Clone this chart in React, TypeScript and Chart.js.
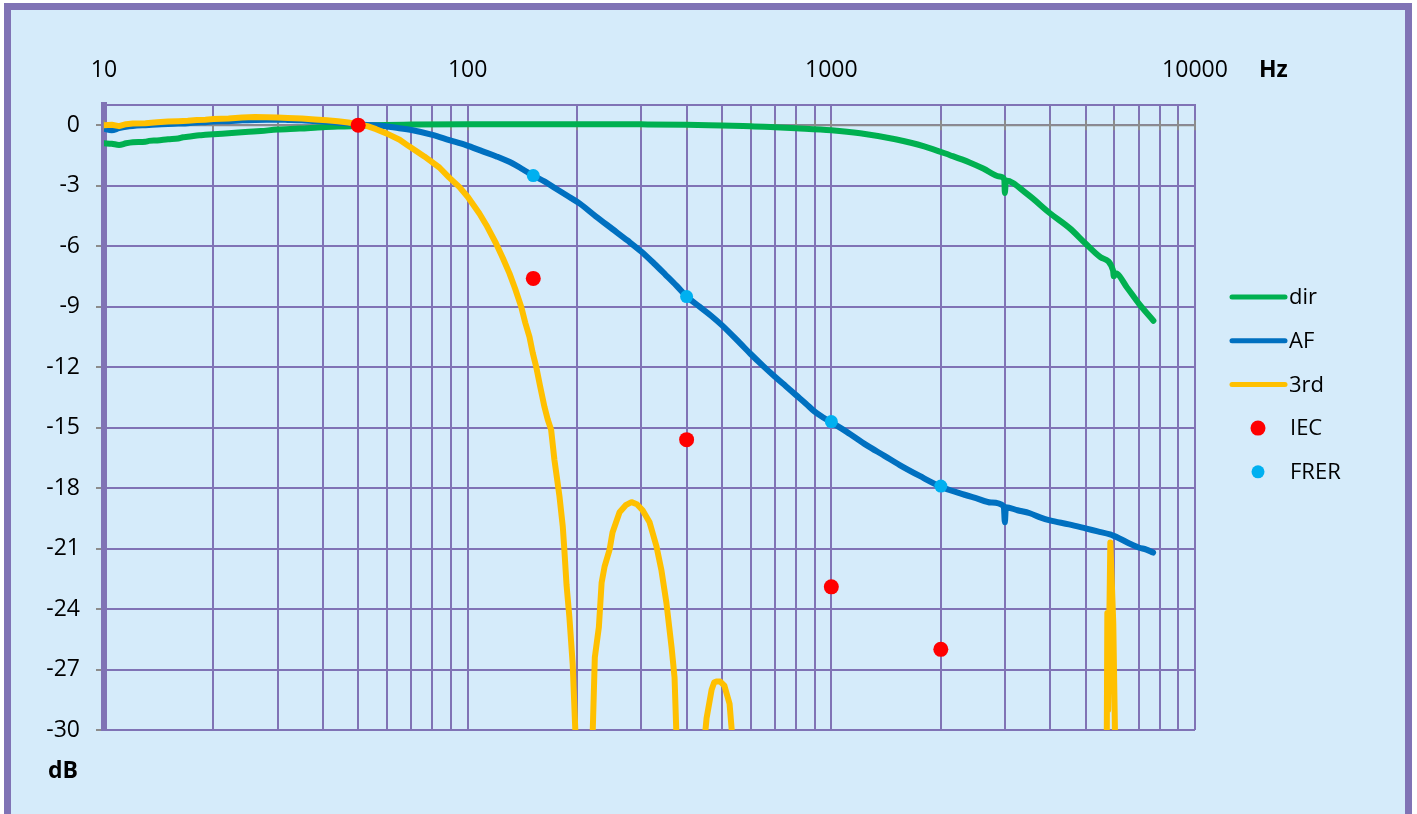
import React, { useEffect, useRef } from "react";
import { Chart, registerables } from "chart.js";

Chart.register(...registerables);

// ---------- data ----------
const seriesLabels = ["dir", "AF", "3rd", "IEC", "FRER"];

const dirFreq = [10, 10.5, 11, 11.5, 12, 13, 13.3, 14, 15, 16, 16.5, 17, 18.3, 19, 20, 22, 25, 27, 30, 34.5, 40, 44, 48, 55, 70, 100, 150, 200, 300, 400, 500, 600, 700, 800, 1000, 1200, 1500, 1800, 2120, 2400, 2616, 2900, 2990, 3000, 3020, 3442, 4000, 4529, 5000, 5500, 5950, 5980, 6050, 6500, 7000, 7685];
const dirDb = [-0.9, -0.92, -0.98, -0.9, -0.85, -0.82, -0.78, -0.76, -0.7, -0.66, -0.6, -0.58, -0.5, -0.48, -0.45, -0.4, -0.33, -0.29, -0.22, -0.17, -0.1, -0.07, -0.05, 0, 0.03, 0.05, 0.05, 0.05, 0.04, 0.02, -0.02, -0.05, -0.1, -0.15, -0.25, -0.4, -0.7, -1.05, -1.49, -1.85, -2.15, -2.55, -2.69, -3.36, -2.75, -3.39, -4.38, -5.12, -5.87, -6.55, -7.2, -7.5, -7.35, -8.05, -8.84, -9.7];

const afFreq = [10, 10.5, 11, 11.5, 12, 13, 14, 15, 16, 17, 18, 19, 20, 22, 24, 26, 28, 30, 32, 35, 38, 41, 44, 47, 50, 57, 63, 70.6, 80, 89, 98.9, 110, 120, 133, 142, 151.5, 163, 175, 188, 203, 225, 250, 275, 300.6, 325, 350, 375, 400, 434, 467, 500, 560, 600, 650, 700, 750, 800, 850, 900, 950, 1000, 1100, 1249, 1400, 1542, 1750, 2000, 2250, 2500, 2750, 2980, 3000, 3020, 3250, 3515, 3750, 3990, 4500, 5000, 5400, 5840, 6200, 6600, 7000, 7350, 7670];
const afDb = [-0.17, -0.25, -0.15, -0.08, -0.04, 0, 0.03, 0.06, 0.08, 0.1, 0.13, 0.15, 0.18, 0.2, 0.24, 0.26, 0.27, 0.27, 0.26, 0.24, 0.2, 0.17, 0.12, 0.08, 0.03, -0.02, -0.12, -0.25, -0.48, -0.74, -0.99, -1.3, -1.55, -1.9, -2.2, -2.5, -2.8, -3.15, -3.5, -3.88, -4.52, -5.15, -5.72, -6.28, -6.85, -7.42, -7.96, -8.5, -9.0, -9.45, -9.92, -10.8, -11.35, -11.95, -12.48, -12.95, -13.39, -13.8, -14.21, -14.5, -14.74, -15.2, -15.87, -16.4, -16.86, -17.4, -17.93, -18.25, -18.5, -18.72, -18.9, -19.7, -18.95, -19.1, -19.25, -19.45, -19.6, -19.8, -20.0, -20.15, -20.3, -20.5, -20.75, -20.95, -21.05, -21.2];

const thirdFreq = [10, 10.5, 11, 11.5, 12, 13, 14, 15, 16, 17, 18, 19, 20, 22, 24, 26, 28, 30, 32, 35, 38, 41, 44, 47, 50, 53, 56, 60, 65, 69, 76, 83.6, 89, 94.8, 100, 107.7, 112.5, 119.7, 125, 130.3, 135, 140.3, 144, 147.9, 151, 154.3, 158, 162.6, 166, 169.6, 173.2, 176, 178.8, 182.6, 184.5, 187, 190.4, 194.4, 198.2, 199,
  220.4, 223.7, 229.5, 233.5, 237.9, 245.5, 250.2, 261.6, 272, 282.2, 292, 302.7, 316.4, 330.6, 341.2, 352, 363.7, 370.6, 375.4, 380,
  448, 454, 468.6, 476, 483, 495, 508, 525, 535, 540,
  5720, 5740, 5770, 5850, 5900, 5960, 6030];
const thirdDb = [0, 0.02, -0.05, 0.05, 0.08, 0.1, 0.14, 0.18, 0.2, 0.22, 0.26, 0.27, 0.3, 0.33, 0.38, 0.4, 0.39, 0.38, 0.36, 0.33, 0.28, 0.24, 0.19, 0.13, 0.04, -0.05, -0.2, -0.42, -0.72, -1.05, -1.55, -2.1, -2.6, -3.06, -3.55, -4.38, -4.95, -5.87, -6.6, -7.35, -8.1, -9.0, -9.8, -10.5, -11.3, -11.98, -12.9, -13.97, -14.6, -15.1, -16.6, -17.5, -18.4, -19.9, -21.1, -22.8, -24.4, -26.7, -30.5, null,
  -30.5, -26.4, -24.9, -22.7, -21.9, -21.07, -20.2, -19.2, -18.85, -18.7, -18.8, -19.1, -19.7, -20.9, -22.1, -23.7, -25.9, -27.4, -30.5, null,
  -30.5, -29.4, -28.0, -27.65, -27.6, -27.6, -27.8, -28.7, -30.5, null,
  -30.5, -24.2, -29, -20.7, -22.5, -24.7, -30.5];

const iecFreq = [50, 151.5, 400, 1000, 2000];
const iecDb = [0, -7.6, -15.6, -22.9, -26.0];

const frerFreq = [151.5, 400, 1000, 2000];
const frerDb = [-2.5, -8.5, -14.7, -17.9];

const xDecades = [10, 100, 1000];
const xSteps = [1, 2, 3, 4, 5, 6, 7, 8, 9];
const xMaxTick = 10000;
const xLabelValues = [10, 100, 1000, 10000];
const yTickValues = [0, -3, -6, -9, -12, -15, -18, -21, -24, -27, -30];
const xUnit = "Hz";
const yUnit = "dB";

// ---------- style ----------
const FONT = "'Open Sans', 'Noto Sans', sans-serif";
const PURPLE = "#8073B5";
const BG = "#D5EBFA";
const GRAY = "#8C8C8C";
const COLORS = ["#00B050", "#0070C0", "#FFC000", "#FF0000", "#00B0F0"];

const toXY = (fs: number[], ds: (number | null)[]) => fs.map((x, i) => ({ x, y: ds[i] }));

const decorPlugin = {
  id: "decor",
  beforeDatasetsDraw(chart: any) {
    const { ctx, chartArea, scales } = chart;
    const y0 = scales.y.getPixelForValue(0);
    ctx.save();
    ctx.strokeStyle = GRAY;
    ctx.lineWidth = 2;
    ctx.beginPath();
    ctx.moveTo(chartArea.left, y0);
    ctx.lineTo(chartArea.right, y0);
    ctx.stroke();
    scales.x.ticks.forEach((t: any) => {
      const px = Math.round(scales.x.getPixelForValue(t.value));
      ctx.beginPath();
      ctx.moveTo(px, y0 - 5);
      ctx.lineTo(px, y0 + 5);
      ctx.stroke();
    });
    ctx.restore();
  },
  afterDraw(chart: any) {
    const { ctx } = chart;
    ctx.save();
    ctx.fillStyle = "#000";
    ctx.textBaseline = "middle";
    ctx.textAlign = "left";
    ctx.font = `bold 23px ${FONT}`;
    ctx.fillText(xUnit, 1259, 70);
    ctx.fillText(yUnit, 48, 771);

    // legend
    ctx.font = `22px ${FONT}`;
    const rowStart = 297;
    const rowStep = 43.7;
    seriesLabels.forEach((label, i) => {
      const y = rowStart + i * rowStep;
      ctx.strokeStyle = COLORS[i];
      ctx.fillStyle = COLORS[i];
      if (i < 3) {
        ctx.lineWidth = 5;
        ctx.lineCap = "round";
        ctx.beginPath();
        ctx.moveTo(1232, y);
        ctx.lineTo(1285, y);
        ctx.stroke();
      } else {
        ctx.beginPath();
        ctx.arc(1258, y, i === 3 ? 7.5 : 6.5, 0, Math.PI * 2);
        ctx.fill();
      }
      ctx.fillStyle = "#000";
      ctx.fillText(label, i < 3 ? 1289 : 1290, y + 1);
    });
    ctx.restore();
  },
};

export default function App() {
  const ref = useRef<HTMLCanvasElement | null>(null);

  useEffect(() => {
    if (!ref.current) return;
    const gridTicks: number[] = [];
    xDecades.forEach((d) => xSteps.forEach((s) => gridTicks.push(d * s)));
    gridTicks.push(xMaxTick);

    const lineDs = (i: number, fs: number[], ds: (number | null)[], smooth: boolean) => ({
      label: seriesLabels[i],
      data: toXY(fs, ds),
      borderColor: COLORS[i],
      backgroundColor: COLORS[i],
      borderWidth: 6,
      pointRadius: 0,
      pointHoverRadius: 0,
      tension: smooth ? 0.4 : 0,
      cubicInterpolationMode: smooth ? "monotone" : "default",
      spanGaps: false,
      borderCapStyle: "round",
      borderJoinStyle: "round",
      order: 5 - i,
    });
    const pointDs = (i: number, fs: number[], ds: number[], r: number) => ({
      label: seriesLabels[i],
      data: toXY(fs, ds),
      showLine: false,
      borderColor: COLORS[i],
      backgroundColor: COLORS[i],
      borderWidth: 0,
      pointRadius: r,
      pointHoverRadius: r,
      order: 5 - i,
    });

    const chart = new Chart(ref.current, {
      type: "line",
      data: {
        datasets: [
          lineDs(0, dirFreq, dirDb, true),
          lineDs(1, afFreq, afDb, true),
          lineDs(2, thirdFreq, thirdDb, false),
          pointDs(3, iecFreq, iecDb, 7.5),
          pointDs(4, frerFreq, frerDb, 6.5),
        ] as any,
      },
      options: {
        animation: false,
        responsive: false,
        devicePixelRatio: 1,
        layout: { padding: { left: 0, top: 0, right: 222, bottom: 84 } },
        plugins: { legend: { display: false }, tooltip: { enabled: false } },
        scales: {
          x: {
            type: "logarithmic",
            position: "top",
            min: 10,
            max: 10000,
            afterBuildTicks: (scale: any) => {
              scale.ticks = gridTicks.map((v) => ({ value: v }));
            },
            afterFit: (scale: any) => {
              scale.height = 105;
            },
            ticks: {
              autoSkip: false,
              maxRotation: 0,
              minRotation: 0,
              padding: 21,
              color: "#000",
              font: { family: FONT, size: 23 },
              callback: (v: any) => (xLabelValues.includes(Number(v)) ? String(v) : ""),
            },
            grid: { color: PURPLE, lineWidth: 2, drawTicks: false },
            border: { display: true, color: PURPLE, width: 2 },
          },
          y: {
            type: "linear",
            min: -30,
            max: 1,
            afterBuildTicks: (scale: any) => {
              scale.ticks = yTickValues.map((v) => ({ value: v }));
            },
            afterFit: (scale: any) => {
              scale.width = 104;
            },
            ticks: {
              padding: 16,
              color: "#000",
              font: { family: FONT, size: 23 },
              callback: (v: any) => String(v),
            },
            grid: { color: PURPLE, lineWidth: 2, drawTicks: true, tickLength: 8, tickColor: GRAY },
            border: { display: true, color: PURPLE, width: 6 },
          },
        },
      } as any,
      plugins: [decorPlugin],
    });
    return () => chart.destroy();
  }, []);

  return (
    <div style={{ position: "absolute", left: 0, top: 0, width: 1417, height: 814, overflow: "hidden" }}>
      <div
        style={{
          position: "absolute",
          left: 4,
          top: 3,
          width: 1408,
          height: 818,
          boxSizing: "border-box",
          border: `7px solid ${PURPLE}`,
          background: BG,
        }}
      />
      <canvas
        ref={ref}
        width={1417}
        height={814}
        style={{ position: "absolute", left: 0, top: 0, width: 1417, height: 814 }}
      />
    </div>
  );
}
